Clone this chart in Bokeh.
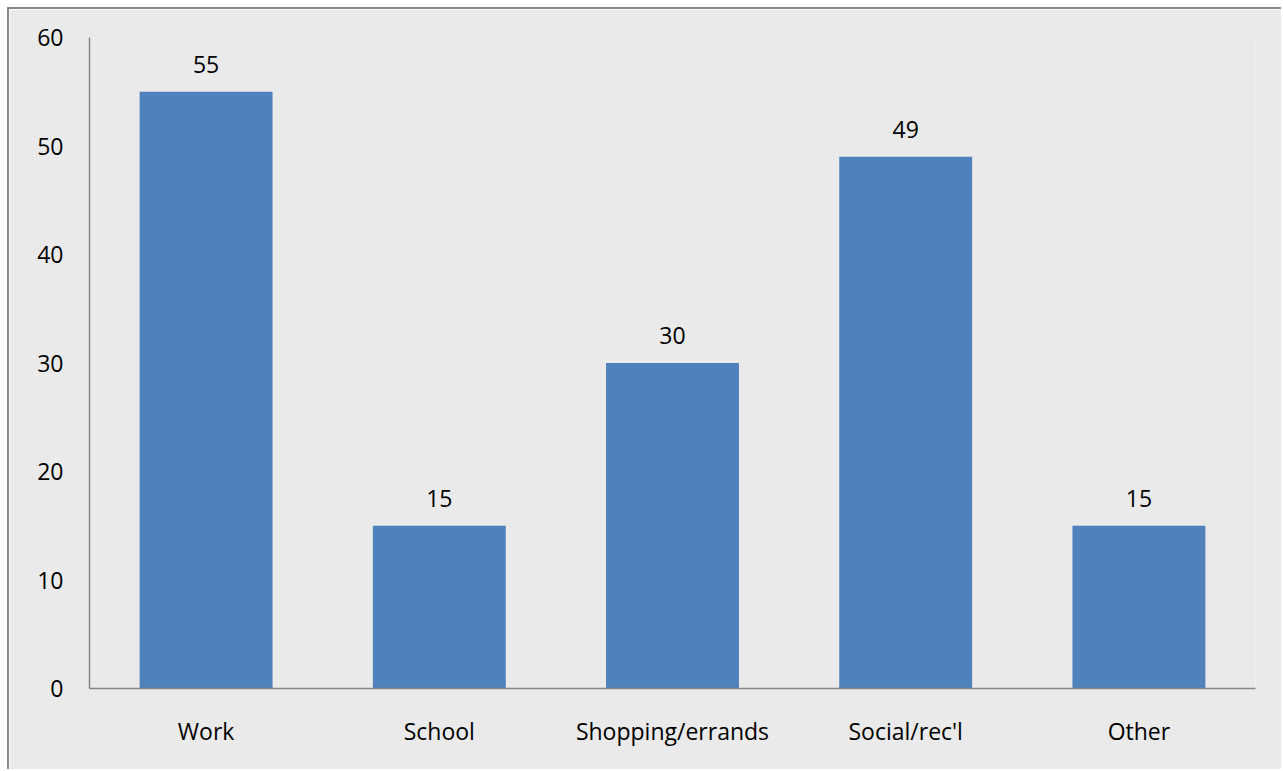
from bokeh.plotting import figure
from bokeh.models import ColumnDataSource, FactorRange, Range1d, LabelSet, FixedTicker
from bokeh.core.properties import value
from bokeh.embed import file_html
from bokeh.resources import INLINE

categories = ["Work", "School", "Shopping/errands", "Social/rec'l", "Other"]
values = [55, 15, 30, 49, 15]
y_ticks = [0, 10, 20, 30, 40, 50, 60]

BG = "#EAEAEA"
FONT = "Open Sans"
FS = "23px"

src = ColumnDataSource(dict(cat=categories, val=values, lab=[str(v) for v in values]))

p = figure(
    x_range=FactorRange(*categories, range_padding=0),
    y_range=Range1d(0, 60),
    width=1274, height=762,
    output_backend="svg", toolbar_location=None,
    min_border_left=80, min_border_right=28, min_border_top=28, min_border_bottom=83,
    background_fill_color=BG, border_fill_color=BG,
)
p.margin = (7, 0, 0, 7)
p.styles = {"border-left": "2px solid #8a8a8a", "border-top": "2px solid #8a8a8a"}
p.outline_line_color = None
p.grid.visible = False

p.vbar(x="cat", top="val", width=0.57, source=src, fill_color="#4F81BD", line_color=None)

labels = LabelSet(x="cat", y="val", text="lab", source=src, text_align="center",
                  text_baseline="alphabetic", y_offset=19, text_font=value(FONT),
                  text_font_size=value(FS), text_color="#000000")
p.add_layout(labels)

for ax in (p.xaxis[0], p.yaxis[0]):
    ax.axis_line_color = "#868686"
    ax.axis_line_width = 1.5
    ax.major_tick_line_color = None
    ax.minor_tick_line_color = None
    ax.major_label_text_font = FONT
    ax.major_label_text_font_size = FS
    ax.major_label_text_color = "#000000"

p.yaxis[0].ticker = FixedTicker(ticks=y_ticks)
p.yaxis[0].major_label_standoff = 20
p.xaxis[0].major_label_standoff = 20

open("out.html", "w").write(file_html(p, INLINE))
